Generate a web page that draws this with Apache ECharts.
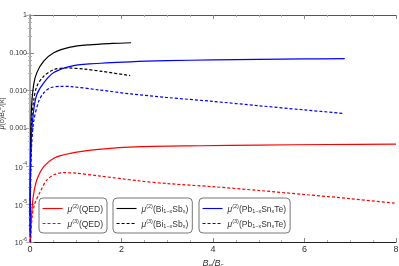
<!DOCTYPE html>
<html><head><meta charset="utf-8">
<script src="https://cdn.jsdelivr.net/npm/echarts@6/dist/echarts.min.js"></script>
<style>html,body{margin:0;padding:0;background:#fff}#c{width:399px;height:266px}</style>
</head><body><div id="c"></div>
<script>
// Data
var xQED2 = [0.01, 0.02, 0.05, 0.08, 0.15, 0.3, 0.52, 0.88, 1.5, 2.41, 3.72, 5, 6.5, 8];
var yQED2 = [8e-7, 2.5e-6, 9e-6, 1.9e-5, 4.4e-5, 9.8e-5, 1.64e-4, 2.2e-4, 2.8e-4, 3.3e-4, 3.5e-4, 3.65e-4, 3.78e-4, 3.85e-4];
var xQED3 = [0.01, 0.02, 0.05, 0.1, 0.22, 0.37, 0.55, 0.73, 1.0, 1.5, 2.41, 3, 4, 5, 6, 7, 8];
var yQED3 = [5e-7, 1.5e-6, 5e-6, 1e-5, 2.1e-5, 4.4e-5, 6.2e-5, 6.8e-5, 6.6e-5, 5.6e-5, 4.1e-5, 3.5e-5, 2.9e-5, 2.3e-5, 1.8e-5, 1.4e-5, 1.05e-5];
var xBi2 = [0.003, 0.01, 0.03, 0.08, 0.15, 0.3, 0.52, 0.88, 1.3, 1.8, 2.21];
var yBi2 = [5e-6, 2e-4, 0.003, 0.0145, 0.03, 0.06, 0.1, 0.141, 0.163, 0.177, 0.185];
var xBi3 = [0.003, 0.01, 0.03, 0.08, 0.15, 0.3, 0.52, 0.8, 1.2, 1.6, 2.19];
var yBi3 = [2e-6, 8e-5, 0.0012, 0.0055, 0.013, 0.024, 0.036, 0.040, 0.037, 0.032, 0.025];
var xPb2 = [0.003, 0.01, 0.03, 0.08, 0.15, 0.3, 0.52, 0.88, 1.3, 2.2, 3, 4, 5, 6, 6.88];
var yPb2 = [1.5e-6, 5e-5, 6e-4, 0.003, 0.0079, 0.016, 0.030, 0.044, 0.051, 0.058, 0.062, 0.065, 0.067, 0.069, 0.070];
var xPb3 = [0.003, 0.01, 0.03, 0.08, 0.19, 0.3, 0.44, 0.66, 0.9, 1.5, 2.2, 3, 4, 5, 6, 6.85];
var yPb3 = [1e-6, 2e-5, 2.5e-4, 0.0015, 0.0052, 0.0087, 0.0118, 0.013, 0.0128, 0.0105, 0.0082, 0.0066, 0.0052, 0.0040, 0.0031, 0.0025];
var xTicks = [0, 2, 4, 6, 8];
var yTickLabels = {'1': '1', '0.1': '0.100', '0.01': '0.010', '0.001': '0.001'};

function pairs(xs, ys) { return xs.map(function (x, i) { return [x, ys[i]]; }); }

var FONT = 'Liberation Sans, Arial, sans-serif';
var RED = '#ff0000', BLACK = '#000000', BLUE = '#0000ff';

var legendNames = {
  q2: '{m|μ}{sup|(2)}{n|(QED)}',
  q3: '{m|μ}{sup|(3)}{n|(QED)}',
  b2: '{m|μ}{sup|(2)}{n|(Bi}{sub|1−x}{n|Sb}{sub|x}{n|)}',
  b3: '{m|μ}{sup|(3)}{n|(Bi}{sub|1−x}{n|Sb}{sub|x}{n|)}',
  p2: '{m|μ}{sup|(2)}{n|(Pb}{sub|1−x}{n|Sn}{sub|x}{n|Te)}',
  p3: '{m|μ}{sup|(3)}{n|(Pb}{sub|1−x}{n|Sn}{sub|x}{n|Te)}'
};
var rich = {
  m: {fontSize: 8.5, fontStyle: 'italic', fontFamily: FONT, color: '#333', lineHeight: 11, verticalAlign: 'bottom'},
  n: {fontSize: 8.5, fontFamily: FONT, color: '#333', lineHeight: 11, verticalAlign: 'bottom'},
  sup: {fontSize: 5.5, fontFamily: FONT, color: '#333', lineHeight: 11, verticalAlign: 'top'},
  sub: {fontSize: 5.5, fontFamily: FONT, color: '#333', lineHeight: 9, verticalAlign: 'bottom'}
};
function legendBox(left, names) {
  return {
    left: left, top: 198, orient: 'vertical', data: names,
    itemWidth: 20, itemHeight: 10, itemGap: 4,
    padding: [5, 4, 4, 3],
    borderColor: '#777', borderWidth: 1, borderRadius: 4,
    selectedMode: false,
    itemStyle: {color: 'rgba(0,0,0,0)', borderColor: 'rgba(0,0,0,0)', borderWidth: 0, opacity: 0},
    lineStyle: {width: 1.1},
    formatter: function (n) { return legendNames[n]; },
    textStyle: {rich: rich, fontSize: 8.5, fontFamily: FONT}
  };
}

function ser(name, xs, ys, color, dashed) {
  return {
    name: name, type: 'line', data: pairs(xs, ys), smooth: 0.3,
    showSymbol: false, symbol: 'none', clip: true,
    lineStyle: {color: color, width: 1.2, type: dashed ? [3, 2] : 'solid'},
    itemStyle: {color: color}
  };
}

var chart = echarts.init(document.getElementById('c'), null, {renderer: 'canvas'});
chart.setOption({
  animation: false,
  backgroundColor: '#fff',
  grid: {left: 30, right: 3, top: 15, bottom: 24, show: false, containLabel: false, outerBoundsMode: 'none'},
  legend: [
    legendBox(39, ['q2', 'q3']),
    legendBox(113, ['b2', 'b3']),
    legendBox(199, ['p2', 'p3'])
  ],
  xAxis: [{
    type: 'value', min: 0, max: 8, interval: 2,
    name: '{i|B}{s|e}{i|/B}{s|c}', nameLocation: 'middle', nameGap: 14, nameMoveOverlap: false,
    nameTextStyle: {rich: {
      i: {fontSize: 9, fontStyle: 'italic', fontFamily: FONT, color: '#333', lineHeight: 12, verticalAlign: 'bottom'},
      s: {fontSize: 6, fontStyle: 'italic', fontFamily: FONT, color: '#333', lineHeight: 9, verticalAlign: 'bottom'}
    }},
    axisLine: {onZero: false, lineStyle: {color: '#222', width: 1}},
    axisTick: {inside: true, length: 4, lineStyle: {color: '#888'}},
    minorTick: {show: true, splitNumber: 4, length: 2, lineStyle: {color: '#aaa'}},
    axisLabel: {fontSize: 9, fontFamily: FONT, color: '#333', margin: 3},
    splitLine: {show: false}
  }, {
    type: 'value', min: 0, max: 8, interval: 2, position: 'top',
    axisLine: {show: true, lineStyle: {color: '#555', width: 1}},
    axisTick: {inside: true, length: 4, lineStyle: {color: '#888'}},
    minorTick: {show: true, splitNumber: 4, length: 2, lineStyle: {color: '#aaa'}},
    axisLabel: {show: false}, splitLine: {show: false}
  }],
  yAxis: [{
    type: 'log', logBase: 10, min: 1e-6, max: 1,
    name: '{m|μ}{n|(b)B}{s|c}{p|2}{n|/|k|}', nameLocation: 'middle', nameGap: 24, nameRotate: 90,
    nameMoveOverlap: false,
    nameTextStyle: {padding: [0, 0, 0, 30], rich: {
      m: {fontSize: 7, fontStyle: 'italic', fontFamily: FONT, color: '#333', lineHeight: 9, verticalAlign: 'bottom'},
      n: {fontSize: 7, fontFamily: FONT, color: '#333', lineHeight: 9, verticalAlign: 'bottom'},
      s: {fontSize: 5, fontFamily: FONT, color: '#333', lineHeight: 7, verticalAlign: 'bottom'},
      p: {fontSize: 5, fontFamily: FONT, color: '#333', lineHeight: 9, verticalAlign: 'top'}
    }},
    axisLine: {show: true, lineStyle: {color: '#222', width: 1}},
    axisTick: {inside: true, length: 4, lineStyle: {color: '#888'}},
    minorTick: {show: true, splitNumber: 5, length: 2, lineStyle: {color: '#aaa'}},
    axisLabel: {
      fontSize: 7, fontFamily: FONT, color: '#333', margin: 3,
      formatter: function (v) {
        var k = String(+v.toPrecision(3));
        if (yTickLabels[k]) return yTickLabels[k];
        var e = Math.round(Math.log10(v));
        return '{b|10}{e|' + e + '}';
      },
      rich: {
        b: {fontSize: 7, fontFamily: FONT, color: '#333', lineHeight: 10, verticalAlign: 'bottom'},
        e: {fontSize: 5, fontFamily: FONT, color: '#333', lineHeight: 10, verticalAlign: 'top'}
      }
    },
    splitLine: {show: false}
  }, {
    type: 'log', logBase: 10, min: 1e-6, max: 1, position: 'right',
    axisLine: {show: true, lineStyle: {color: '#aaa', width: 2}},
    axisTick: {inside: true, length: 4, lineStyle: {color: '#aaa'}},
    minorTick: {show: true, splitNumber: 5, length: 2, lineStyle: {color: '#bbb'}},
    axisLabel: {show: false}, splitLine: {show: false}
  }],
  series: [
    ser('q2', xQED2, yQED2, RED, false),
    ser('q3', xQED3, yQED3, RED, true),
    ser('b2', xBi2, yBi2, BLACK, false),
    ser('b3', xBi3, yBi3, BLACK, true),
    ser('p2', xPb2, yPb2, BLUE, false),
    ser('p3', xPb3, yPb3, BLUE, true)
  ]
});
</script></body></html>
